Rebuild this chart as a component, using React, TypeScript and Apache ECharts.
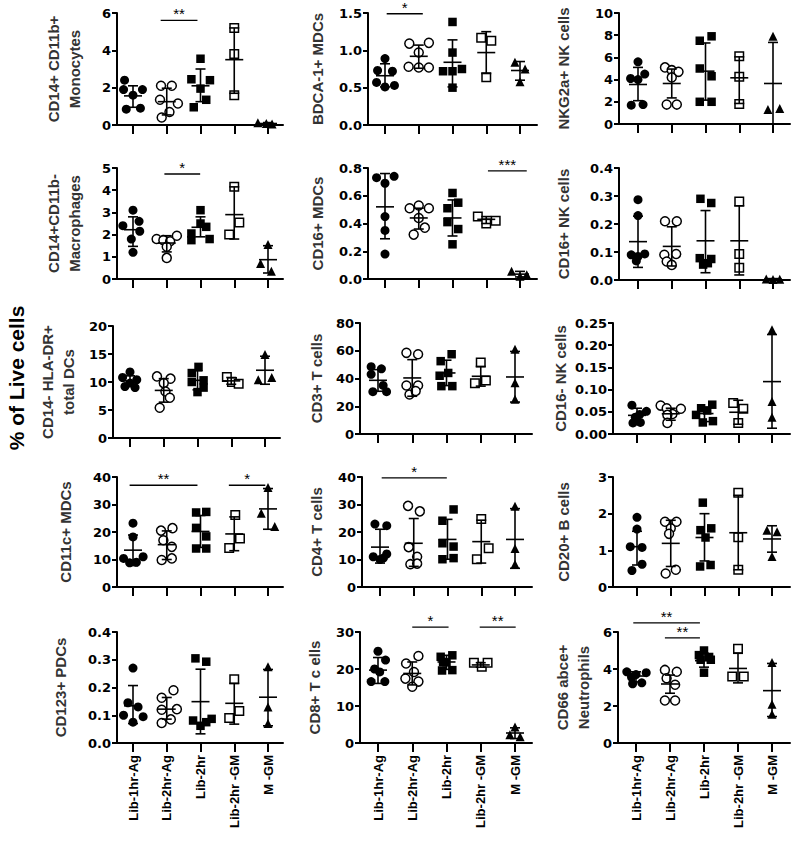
import React, { useEffect, useRef } from "react";
import * as echarts from "echarts";

const categories = ["Lib-1hr-Ag", "Lib-2hr-Ag", "Lib-2hr", "Lib-2hr -GM", "M -GM"];

// A: CD14+ CD11b+ Monocytes
const monoValues = [[2.4, 1.9, 1.9, 1.6, 0.85, 0.9], [2.1, 2.1, 1.35, 1.15, 0.7, 0.4], [3.55, 2.45, 2.4, 1.95, 1.35, 0.95], [5.2, 3.8, 1.6], [0.12, 0.08, 0.05]];
const monoJitter = [[-0.25, -0.28, 0.28, 0, -0.2, 0.22], [-0.17, 0.15, -0.2, 0.33, 0.08, -0.15], [0, -0.27, 0.28, 0, 0.17, -0.2], [0, 0, 0], [-0.3, -0.05, 0.12]];
const monoMean = [1.56, 1.25, 2.1, 3.5, 0.08];
const monoLow = [0.95, 0.54, 1.25, 1.7, 0.03];
const monoHigh = [2.1, 1.97, 3.0, 5.2, 0.13];
const monoSig: [number, number, number, string][] = [[0.82, 1.91, 5.6, "**"]];

// B: CD14+CD11b- Macrophages
const macValues = [[3.1, 2.4, 2.6, 2.15, 1.8, 1.2], [1.8, 1.75, 1.7, 1.95, 1.45, 0.95], [3.1, 2.35, 2.05, 2.5, 1.8, 1.75], [4.15, 2.55, 2.0], [1.55, 0.7, 0.35]];
const macJitter = [[0, -0.3, 0.18, 0.2, -0.05, 0], [-0.3, -0.1, 0.1, 0.3, 0, 0], [0, 0.17, -0.27, 0, 0.27, -0.27], [0, 0.15, -0.15], [0, -0.22, 0.1]];
const macMean = [2.22, 1.62, 2.33, 2.9, 0.87];
const macLow = [1.47, 1.22, 1.9, 1.8, 0.27];
const macHigh = [2.8, 1.95, 2.8, 4.15, 1.5];
const macSig: [number, number, number, string][] = [[0.93, 1.99, 4.73, "*"]];

// C: BDCA-1+ MDCs
const bdcaValues = [[0.89, 0.73, 0.72, 0.57, 0.51, 0.53], [1.09, 1.1, 0.97, 0.78, 0.77, 0.77], [1.38, 0.97, 0.72, 0.75, 0.72, 0.5], [1.17, 1.13, 0.64], [0.84, 0.75, 0.58]];
const bdcaJitter = [[0, -0.22, 0.22, -0.25, 0, 0.28], [-0.28, 0.3, 0, -0.3, 0, 0.3], [0, 0, -0.28, 0.28, 0, 0], [-0.15, 0.15, 0], [-0.15, 0.15, 0]];
const bdcaMean = [0.66, 0.92, 0.84, 0.97, 0.73];
const bdcaLow = [0.51, 0.76, 0.51, 0.69, 0.6];
const bdcaHigh = [0.82, 1.07, 1.14, 1.25, 0.85];
const bdcaSig: [number, number, number, string][] = [[0.05, 1.12, 1.49, "*"]];

// D: CD16+ MDCs
const cd16mValues = [[0.73, 0.74, 0.69, 0.45, 0.35, 0.18], [0.51, 0.53, 0.51, 0.44, 0.32, 0.37], [0.62, 0.55, 0.51, 0.41, 0.36, 0.25], [0.45, 0.4, 0.42], [0.055, 0.02, 0.03]];
const cd16mJitter = [[-0.25, 0.27, 0, 0, 0, 0], [-0.27, 0, 0.3, 0, -0.15, 0.18], [0, 0.17, -0.15, -0.15, 0.17, 0], [-0.25, 0, 0.28], [-0.25, 0, 0.2]];
const cd16mMean = [0.52, 0.44, 0.44, 0.43, 0.035];
const cd16mLow = [0.29, 0.36, 0.31, 0.4, 0.015];
const cd16mHigh = [0.76, 0.51, 0.57, 0.45, 0.055];
const cd16mSig: [number, number, number, string][] = [[3.05, 4.2, 0.78, "***"]];

// E: NKG2a+ NK cells
const nkgValues = [[5.6, 4.1, 4.0, 4.5, 1.7, 1.75], [5.1, 4.85, 4.7, 4.2, 1.75, 1.75], [7.5, 7.9, 5.0, 4.3, 2.0, 2.0], [6.1, 4.25, 1.8], [7.9, 1.3, 1.4]];
const nkgJitter = [[0, -0.22, 0, 0.2, -0.2, 0.15], [-0.2, 0, 0.2, 0, -0.15, 0.15], [-0.17, 0.18, -0.17, 0.18, -0.17, 0.18], [0, 0, 0], [0, -0.15, 0.2]];
const nkgMean = [3.56, 3.65, 4.76, 4.16, 3.65];
const nkgLow = [2.1, 2.35, 2.15, 1.85, 0];
const nkgHigh = [5.1, 4.95, 7.3, 6.05, 7.35];

// F: CD16+ NK cells
const nk16pValues = [[0.287, 0.23, 0.09, 0.084, 0.093, 0.068], [0.21, 0.21, 0.09, 0.093, 0.066, 0.054], [0.29, 0.275, 0.078, 0.075, 0.055, 0.06], [0.28, 0.093, 0.044], [0.004, 0.002, 0.003]];
const nk16pJitter = [[0, 0, -0.2, 0, 0.2, -0.05], [-0.2, 0.15, -0.22, 0.13, -0.15, 0], [-0.15, 0.17, -0.17, 0.17, -0.07, 0.07], [0, 0, 0], [-0.2, 0, 0.2]];
const nk16pMean = [0.137, 0.12, 0.14, 0.14, 0.003];
const nk16pLow = [0.045, 0.05, 0.026, 0.018, 0.001];
const nk16pHigh = [0.228, 0.19, 0.248, 0.265, 0.005];

// G: CD14- HLA-DR+ total DCs
const dcValues = [[11.8, 10.8, 10.4, 9.2, 9.0, 9.8], [11.0, 10.6, 9.8, 8.3, 7.2, 5.4], [12.7, 11.6, 10.3, 10.0, 9.0, 8.2], [10.9, 10.0, 9.7], [14.9, 10.4, 10.8]];
const dcJitter = [[0, -0.22, 0.2, -0.15, 0.15, 0], [-0.2, 0.2, 0, 0.05, 0.18, -0.12], [0.03, -0.17, 0.18, -0.17, 0.18, 0], [-0.13, 0.02, 0.22], [0, -0.2, 0.2]];
const dcMean = [10.2, 8.5, 10.3, 10.2, 12.1];
const dcLow = [9.25, 6.4, 8.6, 9.6, 9.6];
const dcHigh = [11.1, 10.6, 12.0, 10.8, 14.6];

// H: CD11c+ MDCs
const cd11cValues = [[23.2, 18.2, 10.4, 8.8, 9.0, 11.0], [20.5, 21.4, 17.0, 14.6, 9.8, 10.4], [27.1, 27.3, 21.5, 18.4, 14.0, 14.0], [26.2, 17.6, 14.2], [36.2, 26.8, 22.0]];
const cd11cJitter = [[0, 0, -0.28, -0.1, 0.1, 0.3], [-0.17, 0.17, -0.1, 0.15, -0.15, 0.15], [-0.13, 0.17, -0.13, 0.17, -0.13, 0.17], [0.03, 0.17, -0.15], [0, -0.2, 0.2]];
const cd11cMean = [13.4, 15.4, 20.2, 19.3, 28.4];
const cd11cLow = [7.8, 10.0, 14.4, 13.2, 21.0];
const cd11cHigh = [18.9, 20.4, 26.0, 25.5, 35.8];
const cd11cSig: [number, number, number, string][] = [[-0.1, 1.91, 37, "**"], [2.84, 3.92, 37, "*"]];

// I: CD3+ T cells
const cd3Values = [[48.5, 47, 43, 35, 30.5, 30.5], [58.5, 57.5, 35, 35, 28.5, 31], [57.5, 52.5, 42, 44, 34.5, 34.5], [51.5, 36.5, 38.5], [61, 37, 25]];
const cd3Jitter = [[-0.2, 0.1, -0.2, 0.15, -0.15, 0.25], [-0.17, 0.17, -0.17, 0.17, -0.08, 0.1], [0.15, -0.17, -0.2, 0.05, -0.15, 0.17], [0, -0.17, 0.15], [0, 0, 0]];
const cd3Mean = [38.7, 40.4, 44, 41.6, 41.1];
const cd3Low = [30.8, 27.2, 34.9, 34.5, 23];
const cd3High = [46.4, 53.6, 53.2, 48.7, 59.5];

// J: CD4+ T cells
const cd4Values = [[22.9, 22.3, 12, 11, 10, 10.5], [29.5, 27.5, 14.5, 11, 8.3, 8.5], [28.2, 24.1, 15.9, 14.7, 10.1, 10.5], [24.7, 14.1, 10.1], [29.4, 14, 8.3]];
const cd4Jitter = [[-0.15, 0.2, 0.2, -0.2, 0, 0.1], [-0.17, 0.18, -0.15, 0.1, -0.1, 0.1], [0.18, -0.15, -0.15, 0.18, -0.15, 0.18], [0, 0.22, -0.13], [0, 0, 0]];
const cd4Mean = [14.5, 15.9, 17.3, 16.5, 17.3];
const cd4Low = [8.7, 7.5, 10.1, 8.7, 6.8];
const cd4High = [21, 24.9, 24.6, 24.3, 28.5];
const cd4Sig: [number, number, number, string][] = [[0.05, 1.98, 39.7, "*"]];

// K: CD16- NK cells
const nk16nValues = [[0.065, 0.051, 0.044, 0.038, 0.025, 0.026], [0.064, 0.058, 0.057, 0.045, 0.043, 0.025], [0.066, 0.058, 0.053, 0.043, 0.026, 0.029], [0.07, 0.057, 0.025], [0.235, 0.073, 0.038]];
const nk16nJitter = [[-0.15, 0.28, 0.08, -0.05, -0.12, 0.1], [-0.3, -0.12, 0.3, 0.05, -0.1, -0.1], [0.23, -0.1, 0.08, -0.25, -0.05, 0.25], [-0.15, 0.15, 0], [0, 0, 0]];
const nk16nMean = [0.042, 0.0455, 0.046, 0.049, 0.118];
const nk16nLow = [0.025, 0.031, 0.028, 0.022, 0.013];
const nk16nHigh = [0.058, 0.058, 0.06, 0.076, 0.224];

// L: CD20+ B cells
const cd20Values = [[1.9, 1.58, 1.1, 1.08, 0.45, 0.62], [1.78, 1.78, 1.6, 1.45, 0.37, 0.47], [2.3, 1.55, 1.6, 1.35, 0.56, 0.6], [2.57, 1.36, 0.47], [1.55, 1.51, 0.83]];
const cd20Jitter = [[0, 0, -0.2, 0.15, -0.15, 0.15], [-0.17, 0.17, 0, -0.05, -0.15, 0.15], [-0.05, -0.12, 0.2, 0.03, -0.13, 0.18], [0, 0, 0], [-0.15, 0.15, 0]];
const cd20Mean = [1.1, 1.19, 1.35, 1.48, 1.31];
const cd20Low = [0.6, 0.56, 0.71, 0.47, 0.95];
const cd20High = [1.52, 1.82, 2.0, 2.5, 1.67];

// M: CD123+ PDCs
const pdcValues = [[0.27, 0.145, 0.13, 0.1, 0.095, 0.075], [0.19, 0.163, 0.122, 0.12, 0.072, 0.085], [0.305, 0.293, 0.081, 0.062, 0.075, 0.087], [0.23, 0.115, 0.09], [0.275, 0.13, 0.07]];
const pdcJitter = [[0, -0.15, 0.15, -0.28, 0.3, 0], [0.2, -0.15, 0.3, -0.15, -0.15, 0.12], [-0.15, 0.17, -0.22, 0, 0.17, 0.33], [0, 0.15, -0.15], [0, 0, 0]];
const pdcMean = [0.134, 0.122, 0.149, 0.143, 0.165];
const pdcLow = [0.07, 0.086, 0.033, 0.068, 0.062];
const pdcHigh = [0.207, 0.164, 0.266, 0.215, 0.265];

// N: CD8+ T cells
const cd8Values = [[24.8, 22.4, 20, 19.2, 16.6, 16.6], [23.5, 21.5, 19.2, 17.4, 16.6, 15.2], [23.3, 23.7, 21.8, 21.9, 19.6, 19.7], [21.7, 20.6, 21.7], [4.3, 2.2, 1.7]];
const cd8Jitter = [[0, 0.22, -0.1, 0.05, -0.2, 0.2], [0.18, -0.18, 0.05, -0.2, 0.18, 0], [-0.17, 0.17, 0, -0.1, -0.13, 0.17], [-0.2, 0.03, 0.2], [0, -0.15, 0.15]];
const cd8Mean = [19.7, 18.8, 21.9, 21.1, 2.7];
const cd8Low = [16.1, 15.7, 19.9, 20.5, 1.2];
const cd8High = [23.1, 21.9, 23.7, 21.7, 4.1];
const cd8Sig: [number, number, number, string][] = [[1.0, 2.06, 31.3, "*"], [2.97, 4.02, 31.3, "**"]];

// O: CD66 abce+ Neutrophils
const neuValues = [[3.85, 3.8, 3.7, 3.55, 3.2, 3.25], [3.95, 3.85, 3.5, 3.15, 2.3, 2.3], [5.0, 4.75, 4.65, 4.5, 4.5, 3.8], [5.1, 3.6, 3.6], [4.35, 2.1, 1.55]];
const neuJitter = [[-0.27, 0.3, 0, -0.13, -0.1, 0.17], [-0.15, 0.2, -0.1, 0.15, -0.15, 0.15], [0, -0.15, 0.15, -0.1, 0.2, 0], [0, -0.17, 0.17], [0, 0, 0]];
const neuMean = [3.62, 3.19, 4.45, 4.03, 2.83];
const neuLow = [3.3, 2.69, 4.1, 3.25, 1.43];
const neuHigh = [3.85, 3.67, 4.85, 4.85, 4.3];
const neuSig: [number, number, number, string][] = [[-0.08, 1.88, 6.49, "**"], [0.85, 1.88, 5.68, "**"]];

type Panel = {
  name: string; max: number; step: number; dec: number;
  values: number[][]; jitter: number[][]; mean: number[]; low: number[]; high: number[];
  sig: [number, number, number, string][];
  layout: number[]; // axisX, firstTick, lastTick, axisEnd, top, bottom, nameGap
  labels: boolean;
};

const panels: Panel[] = [
  { name: "CD14+ CD11b+\nMonocytes", max: 6, step: 2, dec: 0, values: monoValues, jitter: monoJitter, mean: monoMean, low: monoLow, high: monoHigh, sig: monoSig, layout: [117, 133, 268, 283, 13, 125, 32], labels: false },
  { name: "CD14+CD11b-\nMacrophages", max: 5, step: 1, dec: 0, values: macValues, jitter: macJitter, mean: macMean, low: macLow, high: macHigh, sig: macSig, layout: [117, 133, 268, 283, 168, 279, 32], labels: false },
  { name: "CD14- HLA-DR+\ntotal DCs", max: 20, step: 5, dec: 0, values: dcValues, jitter: dcJitter, mean: dcMean, low: dcLow, high: dcHigh, sig: [], layout: [113, 130, 265, 280, 326, 438, 34], labels: false },
  { name: "CD11c+ MDCs", max: 40, step: 10, dec: 0, values: cd11cValues, jitter: cd11cJitter, mean: cd11cMean, low: cd11cLow, high: cd11cHigh, sig: cd11cSig, layout: [117, 133, 268, 283, 477, 587, 41], labels: false },
  { name: "CD123+ PDCs", max: 0.4, step: 0.1, dec: 1, values: pdcValues, jitter: pdcJitter, mean: pdcMean, low: pdcLow, high: pdcHigh, sig: [], layout: [117, 133, 268, 283, 632, 743, 46], labels: true },
  { name: "BDCA-1+ MDCs", max: 1.5, step: 0.5, dec: 1, values: bdcaValues, jitter: bdcaJitter, mean: bdcaMean, low: bdcaLow, high: bdcaHigh, sig: bdcaSig, layout: [368, 385, 520, 537, 13, 125, 40], labels: false },
  { name: "CD16+ MDCs", max: 0.8, step: 0.2, dec: 1, values: cd16mValues, jitter: cd16mJitter, mean: cd16mMean, low: cd16mLow, high: cd16mHigh, sig: cd16mSig, layout: [368, 385, 520, 537, 168, 279, 40], labels: false },
  { name: "CD3+ T cells", max: 80, step: 20, dec: 0, values: cd3Values, jitter: cd3Jitter, mean: cd3Mean, low: cd3Low, high: cd3High, sig: [], layout: [360, 378, 515, 532, 323, 434, 33], labels: false },
  { name: "CD4+ T cells", max: 40, step: 10, dec: 0, values: cd4Values, jitter: cd4Jitter, mean: cd4Mean, low: cd4Low, high: cd4High, sig: cd4Sig, layout: [362, 380, 515, 532, 477, 587, 35], labels: false },
  { name: "CD8+ T c ells", max: 30, step: 10, dec: 0, values: cd8Values, jitter: cd8Jitter, mean: cd8Mean, low: cd8Low, high: cd8High, sig: cd8Sig, layout: [360, 378, 515, 532, 632, 743, 35], labels: true },
  { name: "NKG2a+ NK cells", max: 10, step: 2, dec: 0, values: nkgValues, jitter: nkgJitter, mean: nkgMean, low: nkgLow, high: nkgHigh, sig: [], layout: [619, 638, 773, 790, 13, 124, 45], labels: false },
  { name: "CD16+ NK cells", max: 0.4, step: 0.1, dec: 1, values: nk16pValues, jitter: nk16pJitter, mean: nk16pMean, low: nk16pLow, high: nk16pHigh, sig: [], layout: [619, 638, 773, 790, 168, 280, 45], labels: false },
  { name: "CD16- NK cells", max: 0.25, step: 0.05, dec: 2, values: nk16nValues, jitter: nk16nJitter, mean: nk16nMean, low: nk16nLow, high: nk16nHigh, sig: [], layout: [613, 637, 772, 790, 323, 434, 39], labels: false },
  { name: "CD20+ B cells", max: 3, step: 1, dec: 0, values: cd20Values, jitter: cd20Jitter, mean: cd20Mean, low: cd20Low, high: cd20High, sig: [], layout: [613, 637, 772, 790, 477, 587, 39], labels: false },
  { name: "CD66 abce+\nNeutrophils", max: 6, step: 2, dec: 0, values: neuValues, jitter: neuJitter, mean: neuMean, low: neuLow, high: neuHigh, sig: neuSig, layout: [618, 636, 772, 790, 632, 743, 24], labels: true },
];

const markerShape = ["circle", "circle", "rect", "rect", "triangle"];
const markerFilled = [true, false, true, false, true];
const markerSize = [9, 9, 8.5, 8.5, 9];

const errorBar = (params: any, api: any) => {
  const x = api.value(0);
  const c = api.coord([x, api.value(1)]);
  const l = api.coord([x, api.value(2)]);
  const h = api.coord([x, api.value(3)]);
  const st = { stroke: "#000", lineWidth: 1.6 };
  return {
    type: "group",
    children: [
      { type: "line", shape: { x1: c[0] - 9, y1: c[1], x2: c[0] + 9, y2: c[1] }, style: st },
      { type: "line", shape: { x1: l[0], y1: l[1], x2: h[0], y2: h[1] }, style: st },
      { type: "line", shape: { x1: h[0] - 5, y1: h[1], x2: h[0] + 5, y2: h[1] }, style: st },
      { type: "line", shape: { x1: l[0] - 5, y1: l[1], x2: l[0] + 5, y2: l[1] }, style: st },
    ],
  };
};

function buildOption() {
  const grid: any[] = [];
  const xAxis: any[] = [];
  const yAxis: any[] = [];
  const series: any[] = [];
  panels.forEach((p, i) => {
    const [ax, t0, t4, end, top, bot, gap] = p.layout;
    const sp = (t4 - t0) / 4;
    grid.push({ left: ax, top, width: end - ax, height: bot - top, containLabel: false });
    xAxis.push({
      gridIndex: i, type: "value", min: -(t0 - ax) / sp, max: 4 + (end - t4) / sp,
      splitLine: { show: false },
      axisLine: { onZero: false, lineStyle: { color: "#000", width: 2 } },
      axisTick: { show: true, customValues: [0, 1, 2, 3, 4], length: 9, lineStyle: { color: "#000", width: 2 } },
      axisLabel: {
        show: p.labels, customValues: [0, 1, 2, 3, 4], rotate: 90, margin: 12,
        formatter: (v: number) => categories[Math.round(v)] ?? "",
        color: "#000", fontFamily: "Liberation Sans", fontWeight: "bold", fontSize: 13,
      },
    });
    yAxis.push({
      gridIndex: i, type: "value", min: 0, max: p.max, interval: p.step,
      splitLine: { show: false },
      axisLine: { show: true, onZero: false, lineStyle: { color: "#000", width: 2 } },
      axisTick: { show: true, length: 5, lineStyle: { color: "#000", width: 2 } },
      axisLabel: {
        margin: 6, color: "#000", fontFamily: "DejaVu Sans", fontWeight: "bold", fontSize: 13,
        formatter: (v: number) => v.toFixed(p.dec),
      },
      name: p.name, nameLocation: "middle", nameGap: gap, nameRotate: 90,
      nameTextStyle: { fontFamily: "Liberation Sans", fontSize: 15, fontWeight: "bold", color: "#333", lineHeight: 21 },
    });
    p.values.forEach((vals, g) => {
      series.push({
        type: "scatter", xAxisIndex: i, yAxisIndex: i, silent: true, clip: false, z: 2,
        data: vals.map((v, k) => [g + p.jitter[g][k], v]),
        symbol: markerShape[g], symbolSize: markerSize[g],
        itemStyle: {
          color: markerFilled[g] ? "#000" : "#fff", borderColor: "#000",
          borderWidth: markerFilled[g] ? 0 : 1.5, opacity: 1,
        },
      });
    });
    series.push({
      type: "custom", xAxisIndex: i, yAxisIndex: i, silent: true, clip: false, z: 3,
      data: p.mean.map((m, g) => [g, m, p.low[g], p.high[g]]),
      renderItem: errorBar,
    });
    if (p.sig.length) {
      series.push({
        type: "custom", xAxisIndex: i, yAxisIndex: i, silent: true, clip: false, z: 4,
        data: p.sig.map((s) => [s[0], s[2], s[1]]),
        renderItem: (params: any, api: any) => {
          const a = api.coord([api.value(0), api.value(1)]);
          const b = api.coord([api.value(2), api.value(1)]);
          const label = p.sig[params.dataIndex][3];
          return {
            type: "group",
            children: [
              { type: "line", shape: { x1: a[0], y1: a[1], x2: b[0], y2: a[1] }, style: { stroke: "#000", lineWidth: 1.3 } },
              {
                type: "text", x: (a[0] + b[0]) / 2, y: a[1] + 1,
                style: { text: label, fill: "#000", font: "15px 'Liberation Sans'", align: "center", verticalAlign: "bottom" },
              },
            ],
          };
        },
      });
    }
  });
  return {
    animation: false,
    backgroundColor: "#fff",
    grid, xAxis, yAxis, series,
    graphic: [
      {
        type: "text", x: 16, y: 378, rotation: Math.PI / 2,
        style: { text: "% of Live cells", font: "bold 21px 'Liberation Sans'", fill: "#000", align: "center", verticalAlign: "middle" },
      },
    ],
  };
}

export default function App() {
  const ref = useRef<HTMLDivElement>(null);
  useEffect(() => {
    document.body.style.margin = "0";
    if (!ref.current) return;
    const chart = echarts.init(ref.current, undefined, { renderer: "svg" });
    chart.setOption(buildOption() as any);
    return () => chart.dispose();
  }, []);
  return <div ref={ref} style={{ width: 792, height: 842, background: "#fff" }} />;
}
